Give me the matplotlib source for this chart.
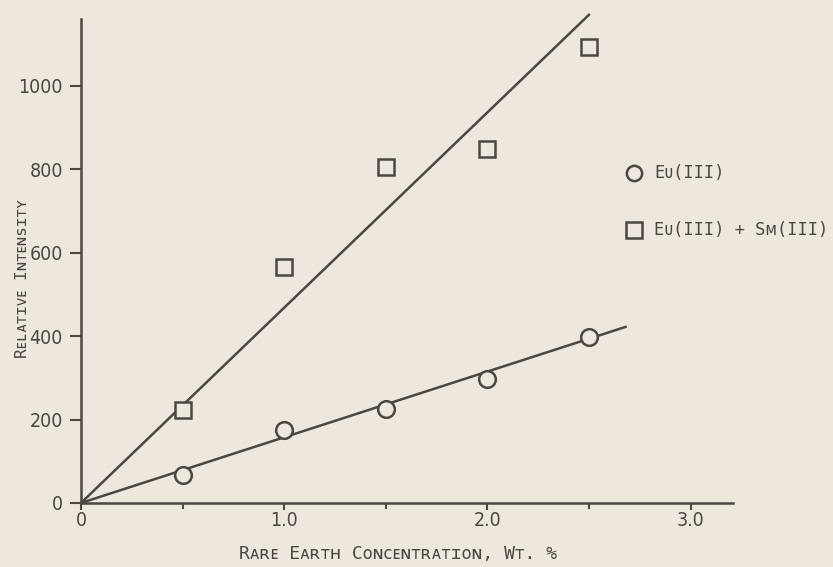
import matplotlib.pyplot as plt

# data
conc = [0.5, 1.0, 1.5, 2.0, 2.5]
eu = [66, 175, 226, 297, 399]
eu_sm = [222, 566, 805, 849, 1092]

# straight lines drawn by hand on the original
eu_line_x = [0, 2.68]
eu_line_y = [0, 422]
eusm_line_x = [0, 2.5]
eusm_line_y = [0, 1170]

bg = '#ede7dd'
ink = '#4d4744'
mono = ['DejaVu Sans Mono', 'DejaVu Sans']
plt.rcParams['font.family'] = ['DejaVu Sans']
plt.rcParams['font.stretch'] = 'condensed'

fig = plt.figure(figsize=(8.33, 5.67), dpi=100, facecolor=bg)
ax = fig.add_axes([0.0972, 0.1129, 0.783, 0.8536], facecolor=bg)

ax.plot(eu_line_x, eu_line_y, color=ink, lw=1.8, zorder=2)
ax.plot(eusm_line_x, eusm_line_y, color=ink, lw=1.8, zorder=2, clip_on=False)
ax.plot(conc, eu, 'o', ms=12, mfc=bg, mec=ink, mew=1.8, zorder=3)
ax.plot(conc, eu_sm, 's', ms=11.5, mfc=bg, mec=ink, mew=1.8, zorder=3, clip_on=False)

# legend as in the original, drawn inside the plot
ax.plot([2.72], [791], 'o', ms=11, mfc=bg, mec=ink, mew=1.8, clip_on=False)
ax.plot([2.72], [655], 's', ms=11, mfc=bg, mec=ink, mew=1.8, clip_on=False)
ax.text(2.82, 791, 'Eᴜ(III)', color=ink, fontsize=12.3, va='center', family=mono)
ax.text(2.82, 655, 'Eᴜ(III) + Sᴍ(III)', color=ink, fontsize=12.3, va='center', family=mono)

ax.set_xlim(0, 3.21)
ax.set_ylim(0, 1160)
ax.set_xticks([0, 1.0, 2.0, 3.0])
ax.set_xticklabels(['0', '1.0', '2.0', '3.0'])
ax.set_xticks([0.5, 1.5, 2.5], minor=True)
ax.set_yticks([0, 200, 400, 600, 800, 1000])

for s in ['top', 'right']:
    ax.spines[s].set_visible(False)
for s in ['left', 'bottom']:
    ax.spines[s].set_color(ink)
    ax.spines[s].set_linewidth(1.8)

ax.tick_params(axis='y', which='major', direction='out', length=8, width=1.5,
               color=ink, labelcolor=ink, labelsize=14, pad=5)
ax.tick_params(axis='x', which='major', direction='out', length=5, width=1.5,
               color=ink, labelcolor=ink, labelsize=14, pad=1)
ax.tick_params(axis='x', which='minor', direction='out', length=4, width=1.5, color=ink)

ax.set_xlabel('Rᴀʀᴇ Eᴀʀᴛʜ Cᴏɴᴄᴇɴᴛʀᴀᴛɪᴏɴ, Wᴛ. %', color=ink, fontsize=13, family=mono)
ax.xaxis.set_label_coords(0.486, -0.087)
ax.set_ylabel('Rᴇʟᴀᴛɪᴠᴇ Iɴᴛᴇɴsɪᴛʏ', color=ink, fontsize=11.5, family=mono)
ax.yaxis.set_label_coords(-0.078, 0.465)

fig.savefig('out.png', dpi=100, facecolor=bg)
